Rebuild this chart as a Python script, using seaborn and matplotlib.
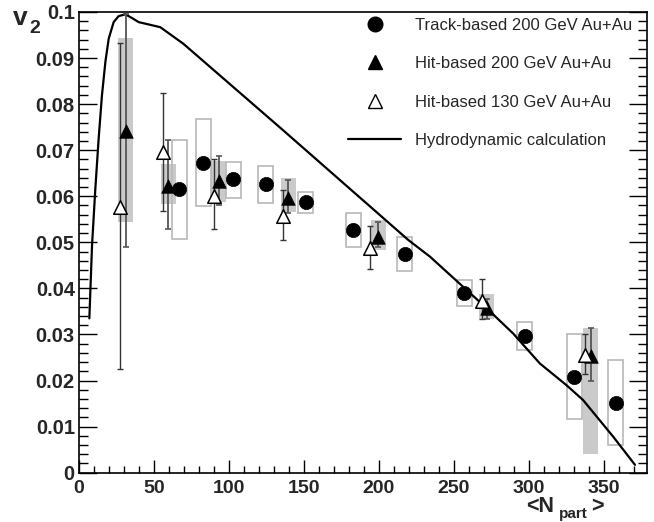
import numpy as np
import matplotlib
matplotlib.use("Agg")
import matplotlib.pyplot as plt
from matplotlib.lines import Line2D
from matplotlib.ticker import MultipleLocator, FixedLocator, FixedFormatter
import seaborn as sns

# ---------------- data ----------------
# Track-based 200 GeV Au+Au (filled circles, open grey systematic boxes)
track_x = [66.7, 82.9, 102.9, 124.4, 151.3, 182.9, 217.3, 256.9, 297.3, 330.2, 358.0]
track_v2 = [0.0615, 0.0673, 0.0637, 0.0626, 0.0587, 0.0527, 0.0474, 0.0390, 0.0297, 0.0208, 0.0152]
track_sys_lo = [0.0507, 0.0578, 0.0597, 0.0586, 0.0563, 0.0490, 0.0438, 0.0362, 0.0266, 0.0116, 0.0060]
track_sys_hi = [0.0722, 0.0767, 0.0675, 0.0666, 0.0610, 0.0563, 0.0512, 0.0418, 0.0327, 0.0300, 0.0244]

# Hit-based 200 GeV Au+Au (filled triangles, filled grey systematic boxes)
hit200_x = [31.3, 59.6, 93.3, 139.6, 199.6, 271.8, 341.3]
hit200_v2 = [0.0742, 0.0623, 0.0633, 0.0596, 0.0512, 0.0357, 0.0253]
hit200_stat_lo = [0.0489, 0.0530, 0.0581, 0.0564, 0.0490, 0.0333, 0.0199]
hit200_stat_hi = [0.0995, 0.0722, 0.0687, 0.0635, 0.0544, 0.0378, 0.0315]
hit200_sys_lo = [0.0545, 0.0584, 0.0588, 0.0565, 0.0483, 0.0333, 0.0041]
hit200_sys_hi = [0.0944, 0.0671, 0.0677, 0.0639, 0.0548, 0.0388, 0.0315]

# Hit-based 130 GeV Au+Au (open triangles)
hit130_x = [27.3, 56.2, 90.0, 136.2, 194.0, 268.4, 337.3]
hit130_v2 = [0.0577, 0.0696, 0.0601, 0.0557, 0.0487, 0.0373, 0.0255]
hit130_lo = [0.0225, 0.0568, 0.0529, 0.0506, 0.0443, 0.0333, 0.0214]
hit130_hi = [0.0933, 0.0825, 0.0680, 0.0613, 0.0535, 0.0420, 0.0302]

# Hydrodynamic calculation
hydro_x = [6.9, 8.7, 10.9, 13.1, 15.3, 17.6, 19.8, 23.1, 26.4, 30.9, 35.3, 39.8,
           46.4, 54.2, 69.6, 102.9, 136.2, 219.6, 234.0, 271.8, 289.5, 307.3,
           325.0, 336.0, 356.2, 370.7]
hydro_v2 = [0.0335, 0.0494, 0.0617, 0.0725, 0.0819, 0.0892, 0.0942, 0.0978, 0.0991,
            0.0995, 0.0987, 0.0978, 0.0973, 0.0967, 0.0931, 0.0837, 0.0743, 0.0505,
            0.0469, 0.0357, 0.0302, 0.0237, 0.0190, 0.0158, 0.0078, 0.0017]

legend_labels = ["Track-based 200 GeV Au+Au", "Hit-based 200 GeV Au+Au",
                 "Hit-based 130 GeV Au+Au", "Hydrodynamic calculation"]
x_ticks = [0, 50, 100, 150, 200, 250, 300, 350]
y_ticks = [0, 0.01, 0.02, 0.03, 0.04, 0.05, 0.06, 0.07, 0.08, 0.09, 0.1]
y_tick_labels = ["0", "0.01", "0.02", "0.03", "0.04", "0.05", "0.06", "0.07", "0.08", "0.09", "0.1"]

# ---------------- style ----------------
sns.set_style("ticks")
plt.rcParams["font.family"] = ["Liberation Sans", "DejaVu Sans"]

W, H = 654, 522
fig = plt.figure(figsize=(W / 100, H / 100), dpi=100)
ax_l, ax_r, ax_b, ax_t = 79, 647, 472.7, 12
ax = fig.add_axes([ax_l / W, 1 - ax_b / H, (ax_r - ax_l) / W, (ax_b - ax_t) / H])

BOX_HW = 5.0

# systematic boxes
ax.bar(track_x, np.array(track_sys_hi) - np.array(track_sys_lo), bottom=track_sys_lo,
       width=2 * BOX_HW, fill=False, edgecolor="#b8b8b8", linewidth=1.2, zorder=2)
ax.bar(hit200_x, np.array(hit200_sys_hi) - np.array(hit200_sys_lo), bottom=hit200_sys_lo,
       width=2 * BOX_HW, color="#cacaca", edgecolor="none", linewidth=0, zorder=1)

# hydro curve
sns.lineplot(x=hydro_x, y=hydro_v2, color="black", linewidth=1.6, sort=False,
             estimator=None, ax=ax, zorder=3)

# statistical error bars
h200 = np.array(hit200_v2)
ax.errorbar(hit200_x, hit200_v2,
            yerr=[h200 - np.array(hit200_stat_lo), np.array(hit200_stat_hi) - h200],
            fmt="none", ecolor="#555555", elinewidth=1.3, capsize=2.2, capthick=1.2, zorder=4)
h130 = np.array(hit130_v2)
ax.errorbar(hit130_x, hit130_v2,
            yerr=[h130 - np.array(hit130_lo), np.array(hit130_hi) - h130],
            fmt="none", ecolor="#333333", elinewidth=1.0, capsize=2.2, capthick=1.0, zorder=4)

# markers
sns.scatterplot(x=track_x, y=track_v2, marker="o", s=105, color="black",
                edgecolor="black", linewidth=0.5, ax=ax, zorder=5, legend=False)
sns.scatterplot(x=hit200_x, y=hit200_v2, marker="^", s=95, color="black",
                edgecolor="black", linewidth=0.5, ax=ax, zorder=5, legend=False)
sns.scatterplot(x=hit130_x, y=hit130_v2, marker="^", s=95, color="white",
                edgecolor="black", linewidth=1.1, ax=ax, zorder=6, legend=False)

# axes
ax.set_xlim(0, 378.7)
ax.set_ylim(0, 0.1)
ax.xaxis.set_major_locator(FixedLocator(x_ticks))
ax.xaxis.set_minor_locator(MultipleLocator(10))
ax.yaxis.set_major_locator(FixedLocator(y_ticks))
ax.yaxis.set_major_formatter(FixedFormatter(y_tick_labels))
ax.yaxis.set_minor_locator(MultipleLocator(0.002))
ax.set_xticklabels([str(t) for t in x_ticks])

for s in ax.spines.values():
    s.set_visible(True)
    s.set_linewidth(1.2)
    s.set_color("black")

ax.tick_params(axis="y", which="major", direction="in", length=13, width=1.0,
               left=True, right=True, labelsize=14.5, pad=3, color="black")
ax.tick_params(axis="y", which="minor", direction="in", length=6.5, width=1.0,
               left=True, right=True, color="black")
ax.tick_params(axis="x", which="major", direction="in", length=9.5, width=1.0,
               bottom=True, top=False, labelsize=14, pad=5, color="black")
ax.tick_params(axis="x", which="minor", direction="in", length=5, width=1.0,
               bottom=True, top=False, color="black")
for lab in ax.get_xticklabels() + ax.get_yticklabels():
    lab.set_fontweight("bold")

# legend
handles = [
    Line2D([], [], marker="o", linestyle="none", markersize=10.5, color="black"),
    Line2D([], [], marker="^", linestyle="none", markersize=10, color="black"),
    Line2D([], [], marker="^", linestyle="none", markersize=10, markerfacecolor="white",
           markeredgecolor="black", markeredgewidth=1.0),
    Line2D([], [], color="black", linewidth=1.6),
]
fig.legend(handles, legend_labels, loc="upper left",
           bbox_to_anchor=(348 / W, 1 - 18 / H), frameon=False, fontsize=12,
           handlelength=3.2, handletextpad=0.8, labelspacing=1.4,
           borderpad=0, borderaxespad=0)

# axis labels
fig.text(12.5 / W, 1 - 25 / H, "v", fontsize=19, fontweight="bold", ha="left", va="baseline")
fig.text(29 / W, 1 - 32.7 / H, "2", fontsize=14, fontweight="bold", ha="left", va="baseline")
fig.text(526 / W, 1 - 512 / H, "<N", fontsize=15.5, fontweight="bold", ha="left", va="baseline")
fig.text(559 / W, 1 - 518 / H, "part", fontsize=11, fontweight="bold", ha="left", va="baseline")
fig.text(591 / W, 1 - 512 / H, ">", fontsize=15.5, fontweight="bold", ha="left", va="baseline")

fig.savefig("out.png", dpi=100)
